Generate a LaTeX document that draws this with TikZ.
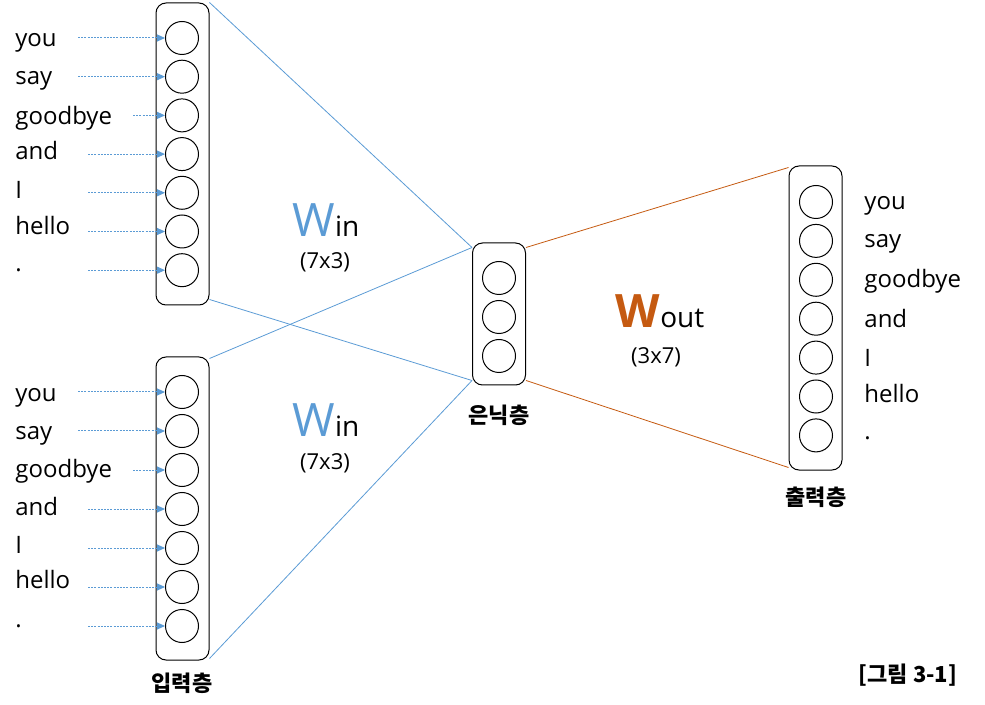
\documentclass[tikz,border=0pt]{standalone}
\usepackage{fontspec}
\setmainfont{Open Sans}
\newfontfamily\kor{Noto Sans CJK KR}
\usetikzlibrary{arrows.meta}
\definecolor{inblue}{HTML}{5B9BD5}
\definecolor{outorange}{HTML}{C55A11}
\tikzset{
  layer/.style={draw, rounded corners=5pt, minimum width=26.5pt, line width=0.5pt},
  neuron/.style={draw, circle, minimum size=16.5pt, inner sep=0pt, line width=0.5pt},
  word/.style={anchor=base west, inner sep=0pt, font=\fontsize{12}{14}\selectfont},
  feed/.style={inblue, line width=0.5pt, dash pattern=on 1pt off 0.6pt, -{Triangle[length=4pt,width=3.5pt]}},
  weight/.style={line width=0.4pt},
  caption/.style={font=\kor\bfseries\fontsize{11}{13}\selectfont}
}
\begin{document}
\begin{tikzpicture}[x=0.5pt, y=-0.5pt]
    \useasboundingbox (0,0) rectangle (985,705);

    % Layer boxes
    \node[layer, minimum height=151pt] (inA) at (182.5,154) {};
    \node[layer, minimum height=151.5pt] (inB) at (182.5,508.5) {};
    \node[layer, minimum height=71pt] (hid) at (499,314) {};
    \node[layer, minimum height=152pt] (out) at (815.5,318) {};

    % Input layer (top)
    \foreach \w/\by/\ax [count=\i from 0] in {you/47/78, say/85/78, goodbye/125/133, and/160/88, I/199/88, hello/235/88, {.}/272/88} {
        \node[neuron] (a\i) at (182,{38+38.7*\i}) {};
        \node[word] (wa\i) at (15,\by) {\w};
        \coordinate (fa\i) at (\ax,{38+38.7*\i});
        \draw[feed] (fa\i) -- (a\i);
    }

    % Input layer (bottom)
    \foreach \w/\by/\ax [count=\i from 0] in {you/402/78, say/440/78, goodbye/478/133, and/515/88, I/553/88, hello/588/88, {.}/627/88} {
        \node[neuron] (b\i) at (182,{392+39*\i}) {};
        \node[word] (wb\i) at (15,\by) {\w};
        \coordinate (fb\i) at (\ax,{392+39*\i});
        \draw[feed] (fb\i) -- (b\i);
    }

    % Hidden layer
    \foreach \i in {0,1,2} {
        \node[neuron] (h\i) at (499,{278+39*\i}) {};
    }

    % Output layer
    \foreach \w/\by [count=\i from 0] in {you/210, say/248, goodbye/288, and/328, I/367, hello/403, {.}/440} {
        \node[neuron] (o\i) at (816,{202+38.9*\i}) {};
        \node[word] (wo\i) at (864,\by) {\w};
    }

    % Weights
    \draw[weight, inblue] (inA.north east) -- ([yshift=-2.5pt]hid.north west);
    \draw[weight, inblue] ([yshift=3pt]inA.south east) -- ([yshift=2.5pt]hid.south west);
    \draw[weight, inblue] ([yshift=-1pt]inB.north east) -- ([yshift=-2.5pt]hid.north west);
    \draw[weight, inblue] ([yshift=1pt]inB.south east) -- ([yshift=2.5pt]hid.south west);
    \draw[weight, outorange] ([yshift=-2.5pt]hid.north east) -- ([yshift=-1pt]out.north west);
    \draw[weight, outorange] ([yshift=2.5pt]hid.south east) -- ([yshift=1.5pt]out.south west);

    % Weight labels
    \node[anchor=base, inner sep=0pt] (winA) at (326,237) {\textcolor{inblue}{\fontsize{23}{23}\selectfont W}{\fontsize{14}{15}\selectfont in}};
    \node[font=\fontsize{11}{12}\selectfont] (dimA) at (325,262) {(7x3)};
    \node[anchor=base, inner sep=0pt] (winB) at (326,437) {\textcolor{inblue}{\fontsize{23}{23}\selectfont W}{\fontsize{14}{15}\selectfont in}};
    \node[font=\fontsize{11}{12}\selectfont] (dimB) at (325,463) {(7x3)};
    \node[anchor=base, inner sep=0pt] (wout) at (660,328) {\textcolor{outorange}{\fontsize{23}{23}\selectfont\bfseries W}{\fontsize{14}{15}\selectfont out}};
    \node[font=\fontsize{11}{12}\selectfont] (dimO) at (656,357) {(3x7)};

    % Captions
    \node[caption] (capH) at (499,415) {은닉층};
    \node[caption] (capI) at (182,683) {입력층};
    \node[caption] (capO) at (816,497) {출력층};
    \node[caption] (fig) at (908,675) {[그림 3-1]};
\end{tikzpicture}
\end{document}
